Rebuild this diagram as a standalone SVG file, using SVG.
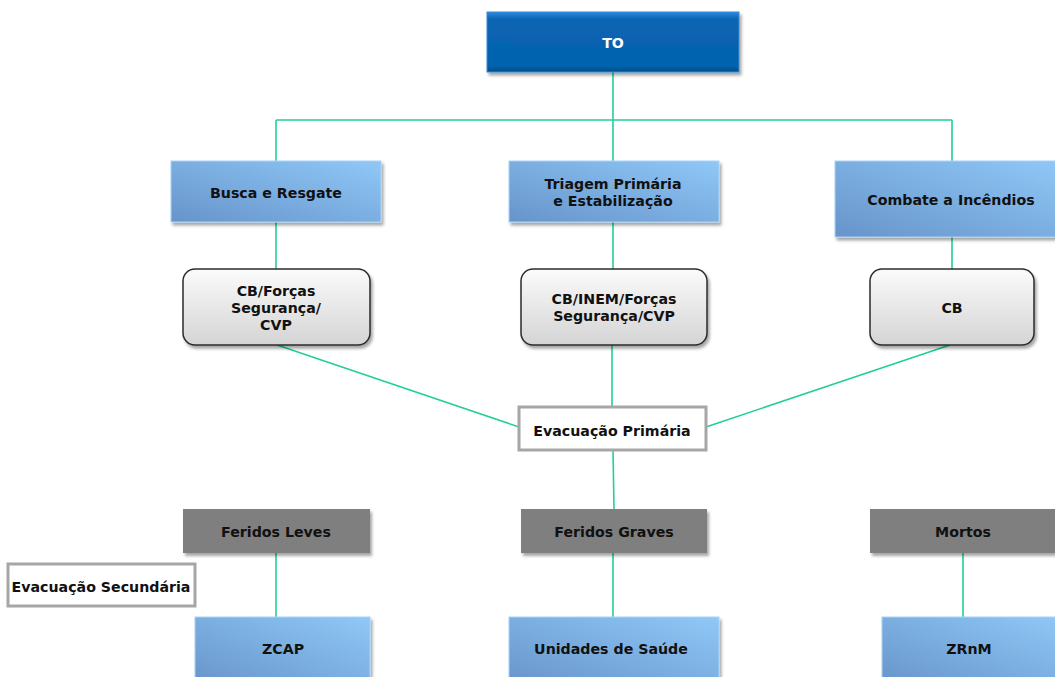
<svg xmlns="http://www.w3.org/2000/svg" width="1055" height="677" viewBox="0 0 1055 677">
  <defs>
    <linearGradient id="blueGrad" x1="0" y1="1" x2="1" y2="0">
      <stop offset="0" stop-color="#6794ca"/>
      <stop offset="1" stop-color="#8fc8f7"/>
    </linearGradient>
    <linearGradient id="greyGrad" x1="0" y1="0" x2="0" y2="1">
      <stop offset="0" stop-color="#fbfbfb"/>
      <stop offset="1" stop-color="#d4d4d4"/>
    </linearGradient>
    <linearGradient id="topGrad" x1="0" y1="0" x2="0" y2="1">
      <stop offset="0" stop-color="#2f8ae0"/>
      <stop offset="0.12" stop-color="#0865b3"/>
      <stop offset="0.9" stop-color="#0563ae"/>
      <stop offset="1" stop-color="#044c88"/>
    </linearGradient>
    <filter id="shadow" x="-10%" y="-10%" width="125%" height="140%">
      <feDropShadow dx="2" dy="3" stdDeviation="1.8" flood-color="#000" flood-opacity="0.35"/>
    </filter>
  </defs>
  <style>
    text { font-family: "DejaVu Sans", Verdana, sans-serif; font-weight: bold; font-size: 14.2px; fill: #111; text-anchor: middle; }
    .link { stroke: #22cf9c; stroke-width: 1.6; fill: none; }
    .task { fill: url(#blueGrad); stroke: #a9d3f7; stroke-width: 1; filter: url(#shadow); }
    .agent { fill: url(#greyGrad); stroke: #2b2b2b; stroke-width: 1.5; filter: url(#shadow); }
    .evac { fill: #ffffff; stroke: #a6a6a6; stroke-width: 3; }
    .casualty { fill: #7f7f7f; filter: url(#shadow); }
  </style>
  <rect width="1055" height="677" fill="#ffffff"/>

  <g id="connectors">
    <path class="link" d="M613 72 V120 M276 120 H952 M276 120 V161 M613 120 V161 M952 120 V161"/>
    <path class="link" d="M276 222 V269 M613 222 V269 M952 237 V269"/>
    <path class="link" d="M277 345 L519 427 M612 345 V407 M950 345 L706 427"/>
    <path class="link" d="M613 450 L614 509"/>
    <path class="link" d="M276 553 V617 M613 553 V617 M963 553 V617"/>
  </g>

  <g id="node-to">
    <rect x="487" y="12" width="252" height="60" fill="url(#topGrad)" stroke="#3a8ad6" stroke-width="1" filter="url(#shadow)"/>
    <text x="613" y="48" style="fill:#ffffff">TO</text>
  </g>

  <g id="node-busca">
    <rect class="task" x="171" y="161" width="210" height="61"/>
    <text x="276" y="198">Busca e Resgate</text>
  </g>
  <g id="node-triagem">
    <rect class="task" x="509" y="161" width="210" height="61"/>
    <text x="613" y="189">Triagem Primária</text>
    <text x="613" y="206">e Estabilização</text>
  </g>
  <g id="node-combate">
    <rect class="task" x="835" y="161" width="225" height="76"/>
    <text x="951" y="205">Combate a Incêndios</text>
  </g>

  <g id="node-cb-forcas">
    <rect class="agent" x="183" y="269" width="187" height="76" rx="12"/>
    <text x="276" y="296">CB/Forças</text>
    <text x="276" y="313">Segurança/</text>
    <text x="276" y="330">CVP</text>
  </g>
  <g id="node-cb-inem">
    <rect class="agent" x="521" y="269" width="186" height="76" rx="12"/>
    <text x="614" y="304">CB/INEM/Forças</text>
    <text x="614" y="321">Segurança/CVP</text>
  </g>
  <g id="node-cb">
    <rect class="agent" x="870" y="269" width="164" height="76" rx="12"/>
    <text x="952" y="313">CB</text>
  </g>

  <g id="node-evac-primaria">
    <rect class="evac" x="519" y="407" width="187" height="43"/>
    <text x="612" y="436">Evacuação Primária</text>
  </g>

  <g id="node-feridos-leves">
    <rect class="casualty" x="183" y="509" width="187" height="44"/>
    <text x="276" y="537">Feridos Leves</text>
  </g>
  <g id="node-feridos-graves">
    <rect class="casualty" x="521" y="509" width="186" height="44"/>
    <text x="614" y="537">Feridos Graves</text>
  </g>
  <g id="node-mortos">
    <rect class="casualty" x="870" y="509" width="190" height="44"/>
    <text x="963" y="537">Mortos</text>
  </g>

  <g id="node-evac-secundaria">
    <rect class="evac" x="8" y="564" width="187" height="42"/>
    <text x="101" y="592">Evacuação Secundária</text>
  </g>

  <g id="node-zcap">
    <rect class="task" x="195" y="617" width="175" height="70"/>
    <text x="283" y="654">ZCAP</text>
  </g>
  <g id="node-saude">
    <rect class="task" x="509" y="617" width="210" height="70"/>
    <text x="611" y="654">Unidades de Saúde</text>
  </g>
  <g id="node-zrnm">
    <rect class="task" x="882" y="617" width="180" height="70"/>
    <text x="969" y="654">ZRnM</text>
  </g>
</svg>
